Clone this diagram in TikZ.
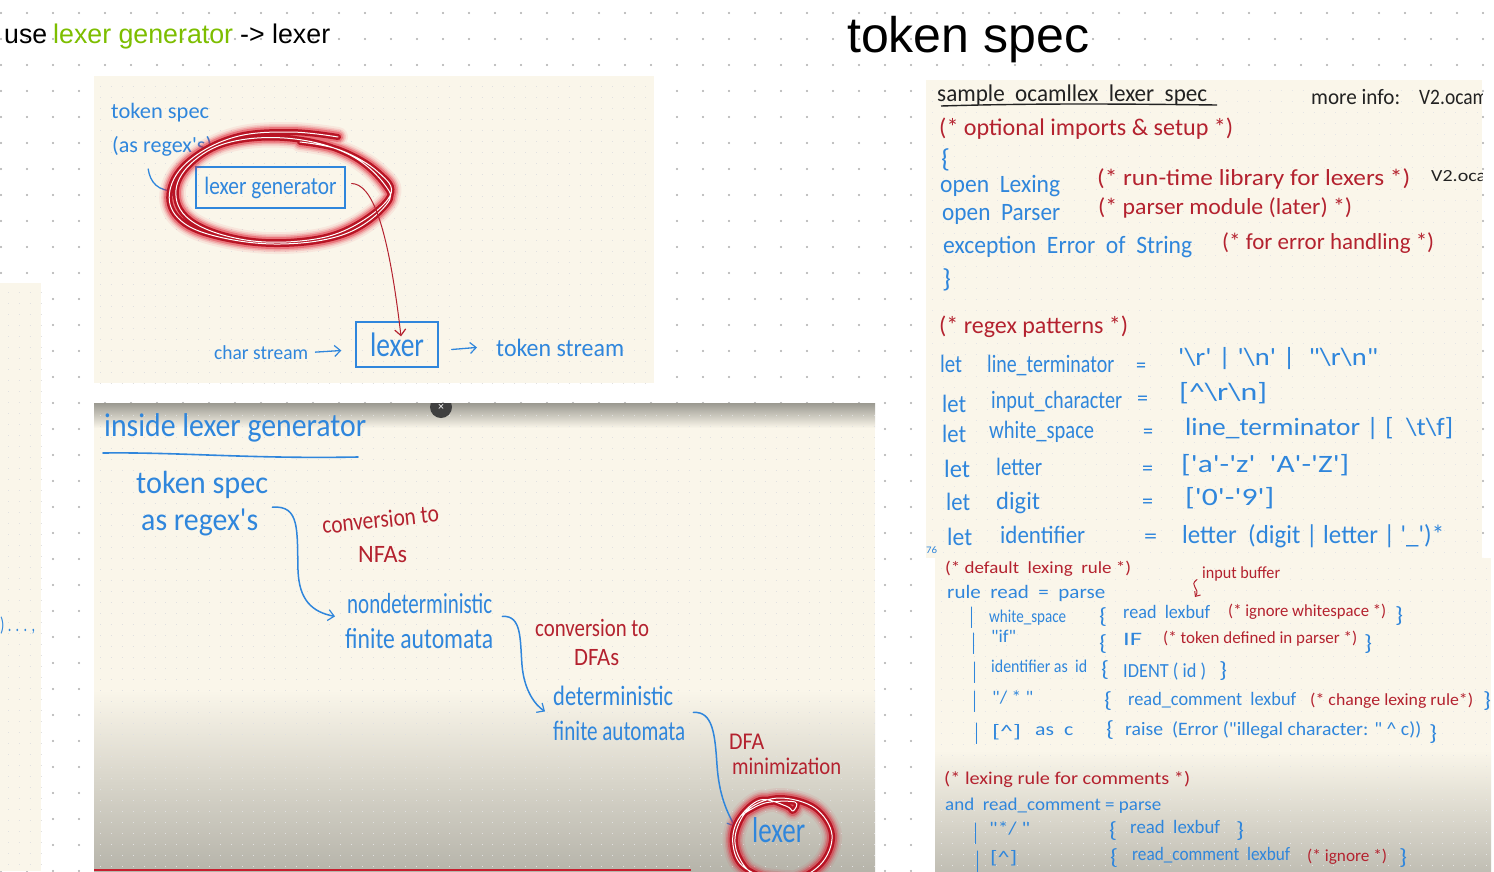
\documentclass[tikz,border=0pt]{standalone}
\usepackage{fontspec}
\usepackage{graphicx}
\usetikzlibrary{arrows.meta}
\newfontfamily\hand{Carlito}
\newfontfamily\uifont{Liberation Sans}
\definecolor{pen}{HTML}{2F86DC}
\definecolor{ink}{HTML}{B4222F}
\definecolor{blk}{HTML}{222222}
\definecolor{paper}{HTML}{FAF6EA}
\definecolor{shade}{HTML}{B6B4AA}
\definecolor{glow}{HTML}{E0182C}
\definecolor{limeg}{HTML}{7DBE00}
% [opts]{name}{x1}{x2}{baseline}{size}{colour}{text}
\newcommand\hw[8][]{\node[inner sep=0pt,anchor=base west,text=#7,#1] (#2) at (#3,#5) {\hand\fontsize{#6}{#6}\selectfont\resizebox{\dimexpr#4pt-#3pt\relax}{\height}{#8}};}
\newcommand\ui[8][]{\node[inner sep=0pt,anchor=base west,text=#7,#1] (#2) at (#3,#5) {\uifont\fontsize{#6}{#6}\selectfont\resizebox{\dimexpr#4pt-#3pt\relax}{\height}{#8}};}
\newcommand\scribble[1]{%
  \foreach \w/\o in {20/.07,16/.12,13/.2,10/.35}{\draw[glow,line width=\w pt,opacity=\o,line cap=round,line join=round] #1;}
  \draw[glow!82!black,line width=6pt,line cap=round,line join=round] #1;
  \draw[white,line width=1pt,line cap=round,line join=round] #1;}
\tikzset{
  box/.style={draw=pen,text=pen,line width=1.3pt,inner sep=0pt},
  penline/.style={pen,line width=1.3pt,line cap=round},
  inkline/.style={ink,line width=1pt,line cap=round},
  barb/.style={-{Straight Barb[length=6pt,width=11pt,line width=1.2pt]}},
  faint/.style={black!12,line width=.9pt,dash pattern=on .9pt off 10pt}
}
\begin{document}
\begin{tikzpicture}[x=1pt,y=-1pt]
\useasboundingbox (0,0) rectangle (1494,871);
\fill[white] (0,0) rectangle (1494,871);
% slide dots
\foreach \yy in {13,39,...,871}{\draw[black!32,line width=2.4pt,line cap=round,dash pattern=on 0pt off 26pt] (1,\yy) -- (1494,\yy);}
% slide titles
\ui{t1}{4}{47}{43}{27}{black}{use}
\ui{t2}{53}{233}{43}{27}{limeg}{lexer generator}
\ui{t3}{240}{330}{43}{27}{black}{-> lexer}
\ui{t4}{847}{1089}{52}{50}{black}{token spec}
% paper panels
\fill[paper] (0,283) rectangle (41,871);
\fill[paper] (94,76) rectangle (654,383);
\fill[paper] (94,403) rectangle (875,871);
\fill[top color=shade!85!black,bottom color=paper] (94,403) rectangle (875,428);
\fill[top color=paper,bottom color=shade] (94,690) rectangle (875,871);
\fill[paper] (926,80) rectangle (1482,558);
\fill[paper] (935,558) rectangle (1491,871);
\fill[top color=paper,bottom color=shade!85!paper] (935,750) rectangle (1491,871);
% faint paper dots
\foreach \yy in {292,303,...,871}{\draw[faint] (8,\yy) -- (41,\yy);}
\foreach \yy in {86,97,...,383}{\draw[faint] (100,\yy) -- (654,\yy);}
\foreach \yy in {415,426,...,871}{\draw[faint] (100,\yy) -- (875,\yy);}
\foreach \yy in {90,101,...,558}{\draw[faint,black!10] (932,\yy) -- (1482,\yy);}
\foreach \yy in {568,579,...,871}{\draw[faint,black!10] (941,\yy) -- (1491,\yy);}
% left panel remnant
\hw{rem}{0}{35}{631}{20}{pen}{) . . . ,}
% ---------- panel 1
\hw{ts}{111}{209}{118}{22}{pen}{token spec}
\hw{regex1}{112}{212}{152}{22}{pen}{(as regex's)}
\node[box,minimum width=149pt,minimum height=41pt] (lexgen) at (270.5,187.5) {\hand\fontsize{25}{25}\selectfont\resizebox{132pt}{\height}{lexer generator}};
\draw[penline,barb] ([shift={(-14pt,-13pt)}]regex1.south) .. controls (150,182) and (158,192) .. ([shift={(-18pt,-3pt)}]lexgen.west);
\scribble{plot[smooth,tension=.65] coordinates {(338,137)(290,132)(235,137)(190,160)(170,190)(178,218)(215,236)(280,244)(345,234)(386,205)(385,185)(350,155)(295,139)(235,141)(195,160)(176,190)(190,220)(240,239)(300,241)(350,228)(390,196)(378,172)(340,150)(300,142)}}
\node[box,minimum width=82pt,minimum height=45pt] (lexbox) at (397,344.5) {\hand\fontsize{34}{34}\selectfont\resizebox{54pt}{\height}{lexer}};
\draw[inkline,barb] ([shift={(6pt,4pt)}]lexgen.east) .. controls (372,184) and (388,225) .. ([shift={(4pt,-15pt)}]lexbox.north);
\hw{chars}{214}{308}{359}{20}{pen}{char stream}
\hw{toks}{496}{624}{356}{25}{pen}{token stream}
\draw[penline,barb] ([xshift=7pt]chars.east) -- ([shift={(-14pt,-6pt)}]lexbox.west);
\draw[penline,barb] ([shift={(13pt,-5pt)}]lexbox.east) -- ([xshift=-19pt]toks.west);
% ---------- panel 2
\begin{scope}
\clip (94,403) rectangle (875,871);
\fill[black!75] (441,407) circle (11);
\node[text=white,inner sep=0pt] (closex) at (441,407) {\uifont\fontsize{11}{11}\selectfont ×};
\hw{inside}{104}{366}{436}{33}{pen}{inside lexer generator}
\coordinate (ul1) at (103,453); \coordinate (ul2) at (358,457);
\draw[penline,line width=1.6pt] (ul1) .. controls (180,452) and (250,459) .. (ul2);
\hw{ts2}{136}{268}{493}{32}{pen}{token spec}
\hw{regex2}{141}{258}{530}{32}{pen}{as regex's}
\hw[rotate=6]{conv1}{323}{440}{534}{25}{ink}{conversion to}
\hw{nfas}{358}{407}{562}{25}{ink}{NFAs}
\hw{nfa1}{347}{492}{613}{29}{pen}{nondeterministic}
\hw{nfa2}{345}{493}{648}{29}{pen}{finite automata}
\hw{conv2}{535}{649}{636}{25}{ink}{conversion to}
\hw{dfas}{574}{619}{665}{25}{ink}{DFAs}
\hw{dfa1}{553}{673}{705}{28}{pen}{deterministic}
\hw{dfa2}{553}{685}{740}{28}{pen}{finite automata}
\hw{mini1}{729}{764}{749}{24}{ink}{DFA}
\hw{mini2}{732}{841}{774}{24}{ink}{minimization}
\hw{lex3}{752}{805}{842}{36}{pen}{lexer}
\draw[penline,barb,line width=1.5pt] ([shift={(14pt,1pt)}]regex2.north east) .. controls (300,505) and (297,530) .. (298,570) .. controls (299,600) and (312,612) .. ([shift={(-12pt,-3pt)}]nfa1.south west);
\draw[penline,barb,line width=1.5pt] ([shift={(10pt,-3pt)}]nfa1.south east) .. controls (522,615) and (520,640) .. (522,665) .. controls (524,690) and (535,705) .. ([shift={(-8pt,-6pt)}]dfa1.south west);
\draw[penline,barb,line width=1.5pt] ([shift={(8pt,8pt)}]dfa2.north east) .. controls (713,711) and (715,735) .. (717,765) .. controls (719,795) and (727,812) .. ([shift={(-17pt,3pt)}]lex3.west);
\scribble{plot[smooth,tension=.6] coordinates {(742,815)(765,803)(795,802)(793,811)(786,806)(760,800)(738,820)(733,845)(745,868)(785,882)(820,865)(832,835)(815,808)(780,798)(750,808)(736,832)(738,855)(755,875)(790,880)}}
\end{scope}
\fill[ink!60!glow] (94,869) rectangle (691,871);
% ---------- panel 3
\begin{scope}
\clip (926,80) rectangle (1482,871);
\hw{sample}{937}{1207}{101}{24}{blk}{sample \ ocamllex \ lexer \ spec}
\coordinate (ul3) at (941,106); \coordinate (ul4) at (1217,105);
\draw[blk,line width=1.4pt] (ul3) .. controls (1040,103) and (1130,104) .. (ul4);
\hw{more}{1311}{1400}{104}{22}{blk}{more info:}
\hw{v2a}{1419}{1488}{104}{22}{blk}{V2.ocam}
\hw{v2b}{1431}{1486}{181}{17}{blk}{V2.oca}
\end{scope}
\hw{c1}{939}{1233}{135}{24}{ink}{(* optional imports \& setup *)}
\hw{ob}{941}{950}{167}{26}{pen}{\{}
\hw{o1}{940}{1060}{192}{25}{pen}{open \ Lexing}
\hw{c2}{1097}{1410}{185}{23}{ink}{(* run-time library for lexers *)}
\hw{o2}{942}{1060}{220}{25}{pen}{open \ Parser}
\hw{c3}{1098}{1352}{214}{23}{ink}{(* parser module (later) *)}
\hw{o3}{943}{1192}{253}{25}{pen}{exception \ Error \ of \ String}
\hw{c4}{1222}{1434}{249}{23}{ink}{(* for error handling *)}
\hw{cb}{942}{951}{287}{26}{pen}{\}}
\hw{c5}{939}{1128}{333}{24}{ink}{(* regex patterns *)}
\hw{l1}{940}{962}{372}{25}{pen}{let}
\hw{n1}{987}{1114}{372}{25}{pen}{line\_terminator}
\hw{e1}{1136}{1146}{372}{22}{pen}{=}
\hw{r1}{1178}{1378}{365}{25}{pen}{'\textbackslash r' | '\textbackslash n' | \ "\textbackslash r\textbackslash n"}
\hw{l2}{942}{966}{412}{25}{pen}{let}
\hw{n2}{991}{1122}{408}{25}{pen}{input\_character}
\hw{e2}{1137}{1148}{405}{22}{pen}{=}
\hw{r2}{1179}{1267}{400}{25}{pen}{[\textasciicircum\textbackslash r\textbackslash n]}
\hw{l3}{942}{966}{442}{25}{pen}{let}
\hw{n3}{989}{1094}{438}{25}{pen}{white\_space}
\hw{e3}{1143}{1153}{438}{22}{pen}{=}
\hw{r3}{1185}{1453}{435}{25}{pen}{line\_terminator | [ \ \textbackslash t\textbackslash f]}
\hw{l4}{944}{970}{477}{25}{pen}{let}
\hw{n4}{996}{1042}{475}{25}{pen}{letter}
\hw{e4}{1142}{1153}{475}{22}{pen}{=}
\hw{r4}{1181}{1349}{472}{25}{pen}{['a'-'z' \ 'A'-'Z']}
\hw{l5}{946}{970}{510}{25}{pen}{let}
\hw{n5}{996}{1040}{509}{25}{pen}{digit}
\hw{e5}{1142}{1153}{508}{22}{pen}{=}
\hw{r5}{1185}{1274}{505}{25}{pen}{['0'-'9']}
\hw{l6}{947}{972}{545}{25}{pen}{let}
\hw{n6}{1000}{1085}{543}{25}{pen}{identifier}
\hw{e6}{1144}{1157}{543}{22}{pen}{=}
\hw{r6}{1182}{1444}{543}{26}{pen}{letter \ (digit | letter | '\_')*}
\hw{pg}{926}{937}{553}{10}{pen}{76}
% ---------- panel 4
\hw{d1}{945}{1131}{573}{17}{ink}{(* default \ lexing \ rule *)}
\hw{inp}{1202}{1280}{578}{17}{ink}{input buffer}
\coordinate (inpend) at (1195,597);
\draw[inkline,-{Straight Barb[length=4pt,width=7pt]}] ([shift={(-5pt,-6pt)}]inp.west) .. controls (1188,586) and (1201,588) .. (inpend);
\hw{d2}{947}{1105}{598}{19}{pen}{rule \ read \ = \ parse}
\hw{b1}{968}{975}{624}{24}{pen}{|}
\hw{p1}{989}{1066}{622}{18}{pen}{white\_space}
\hw{k1}{1099}{1107}{623}{22}{pen}{\{}
\hw{a1}{1123}{1210}{618}{19}{pen}{read \ lexbuf}
\hw{m1}{1228}{1386}{616}{17}{ink}{(* ignore whitespace *)}
\hw{z1}{1395}{1403}{622}{22}{pen}{\}}
\hw{b2}{970}{977}{650}{24}{pen}{|}
\hw{p2}{991}{1016}{642}{18}{pen}{"if"}
\hw{k2}{1099}{1107}{650}{22}{pen}{\{}
\hw{a2}{1123}{1142}{645}{19}{pen}{IF}
\hw{m2}{1163}{1357}{643}{17}{ink}{(* token defined in parser *)}
\hw{z2}{1364}{1372}{650}{22}{pen}{\}}
\hw{b3}{971}{978}{679}{24}{pen}{|}
\hw{p3}{991}{1087}{672}{18}{pen}{identifier as \ id}
\hw{k3}{1101}{1109}{676}{22}{pen}{\{}
\hw{a3}{1123}{1206}{677}{20}{pen}{IDENT ( id )}
\hw{z3}{1219}{1227}{677}{22}{pen}{\}}
\hw{b4}{971}{978}{708}{24}{pen}{|}
\hw{p4}{992}{1033}{703}{18}{pen}{"/ * "}
\hw{k4}{1104}{1112}{707}{22}{pen}{\{}
\hw{a4}{1128}{1296}{705}{19}{pen}{read\_comment \ lexbuf}
\hw{m4}{1310}{1473}{705}{17}{ink}{(* change lexing rule*)}
\hw{z4}{1483}{1491}{707}{22}{pen}{\}}
\hw{b5}{973}{980}{740}{24}{pen}{|}
\hw{p5}{992}{1021}{737}{18}{pen}{[\textasciicircum]}
\hw{p5b}{1035}{1073}{735}{18}{pen}{as \ c}
\hw{k5}{1106}{1114}{736}{22}{pen}{\{}
\hw{a5}{1125}{1421}{735}{19}{pen}{raise \ (Error ("illegal character: " \textasciicircum{} c))}
\hw{z5}{1429}{1437}{740}{22}{pen}{\}}
\hw{d3}{944}{1190}{784}{18}{ink}{(* lexing rule for comments *)}
\hw{d4}{945}{1161}{810}{18}{pen}{and \ read\_comment = parse}
\hw{b6}{972}{979}{840}{24}{pen}{|}
\hw{p6}{989}{1030}{834}{18}{pen}{"*/ "}
\hw{k6}{1109}{1117}{837}{22}{pen}{\{}
\hw{a6}{1130}{1220}{833}{19}{pen}{read \ lexbuf}
\hw{z6}{1236}{1244}{837}{22}{pen}{\}}
\hw{b7}{974}{981}{868}{24}{pen}{|}
\hw{p7}{990}{1017}{863}{18}{pen}{[\textasciicircum]}
\hw{k7}{1110}{1118}{864}{22}{pen}{\{}
\hw{a7}{1132}{1290}{860}{19}{pen}{read\_comment \ lexbuf}
\hw{m7}{1307}{1387}{861}{17}{ink}{(* ignore *)}
\hw{z7}{1399}{1407}{864}{22}{pen}{\}}
\end{tikzpicture}
\end{document}
